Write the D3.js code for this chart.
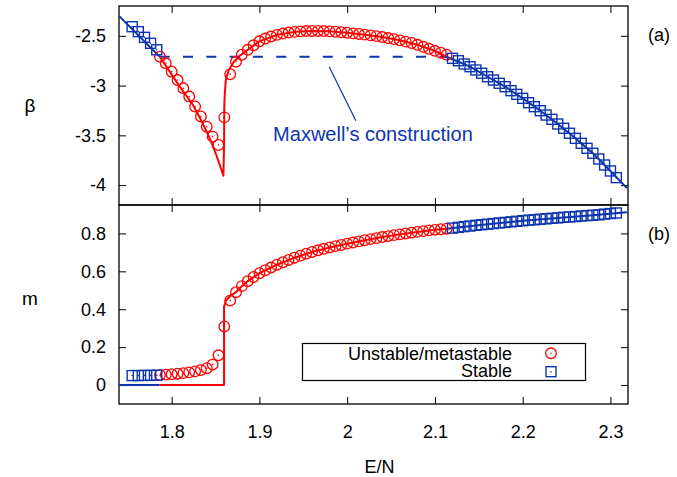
<!DOCTYPE html>
<html>
<head>
<meta charset="utf-8">
<script src="https://cdn.jsdelivr.net/npm/d3@7"></script>
<style>
  body { margin: 0; background: #fff; }
  text { font-family: "Liberation Sans", Arial, Helvetica, sans-serif; }
</style>
</head>
<body>
<div id="chart"></div>
<script>
var red = "#ff0000",
    blue = "#0d35b0";

// stable points, low energy side
var E_sqL = [1.755, 1.762, 1.769, 1.776, 1.783];
var beta_sqL = [-2.408, -2.458, -2.515, -2.575, -2.640];
var m_sqL = [0.050, 0.050, 0.051, 0.051, 0.052];

// unstable / metastable points
var E_circ = [1.7867, 1.7933, 1.8000, 1.8067, 1.8133, 1.8200, 1.8267, 1.8333, 1.8400, 1.8467,
    1.8533, 1.8600, 1.8667, 1.8733, 1.8800, 1.8867, 1.8933, 1.9000, 1.9067, 1.9133,
    1.9200, 1.9267, 1.9333, 1.9400, 1.9467, 1.9533, 1.9600, 1.9667, 1.9733, 1.9800,
    1.9867, 1.9933, 2.0000, 2.0067, 2.0133, 2.0200, 2.0267, 2.0333, 2.0400, 2.0467,
    2.0533, 2.0600, 2.0667, 2.0733, 2.0800, 2.0867, 2.0933, 2.1000, 2.1067, 2.1133];
var beta_circ = [-2.710, -2.776, -2.860, -2.944, -3.027, -3.110, -3.210, -3.310, -3.413, -3.513,
    -3.597, -3.319, -2.886, -2.760, -2.690, -2.640, -2.595, -2.555, -2.527, -2.507,
    -2.490, -2.477, -2.467, -2.460, -2.455, -2.452, -2.451, -2.451, -2.452, -2.455,
    -2.459, -2.464, -2.469, -2.475, -2.481, -2.488, -2.495, -2.503, -2.512, -2.522,
    -2.533, -2.545, -2.558, -2.572, -2.590, -2.610, -2.630, -2.650, -2.670, -2.690];
var m_circ = [0.053, 0.055, 0.057, 0.060, 0.063, 0.067, 0.072, 0.079, 0.089, 0.108,
    0.157, 0.309, 0.446, 0.490, 0.522, 0.548, 0.570, 0.590, 0.606, 0.620,
    0.635, 0.648, 0.660, 0.672, 0.683, 0.693, 0.702, 0.711, 0.719, 0.726,
    0.733, 0.739, 0.746, 0.752, 0.758, 0.764, 0.770, 0.775, 0.781, 0.786,
    0.791, 0.795, 0.800, 0.804, 0.808, 0.812, 0.816, 0.819, 0.822, 0.825];

// stable points, high energy side
var E_sqR = [2.1200, 2.1267, 2.1333, 2.1400, 2.1467, 2.1533, 2.1600, 2.1667, 2.1733, 2.1800,
    2.1867, 2.1933, 2.2000, 2.2067, 2.2133, 2.2200, 2.2267, 2.2333, 2.2400, 2.2467,
    2.2533, 2.2600, 2.2667, 2.2733, 2.2800, 2.2867, 2.2933, 2.3000, 2.3067];
var beta_sqR = [-2.726, -2.750, -2.783, -2.810, -2.843, -2.876, -2.911, -2.944, -2.977, -3.011,
    -3.051, -3.088, -3.128, -3.172, -3.212, -3.252, -3.296, -3.339, -3.386, -3.429,
    -3.479, -3.530, -3.580, -3.630, -3.680, -3.738, -3.798, -3.858, -3.925];
var m_sqR = [0.828, 0.832, 0.836, 0.839, 0.843, 0.846, 0.849, 0.852, 0.855, 0.858,
    0.861, 0.864, 0.867, 0.870, 0.872, 0.875, 0.877, 0.880, 0.882, 0.885,
    0.887, 0.889, 0.892, 0.894, 0.896, 0.898, 0.902, 0.905, 0.908];

// theory curves
var E_lineBL = [1.74, 1.7864];
var beta_lineBL = [-2.30, -2.71];
var E_lineR = [1.7864, 1.7960, 1.8055, 1.8150, 1.8244, 1.8340, 1.8434, 1.8510, 1.8590,
    1.8597, 1.8600, 1.8605, 1.8617, 1.8651, 1.8708, 1.8776, 1.8867, 1.9000, 1.9200,
    1.9400, 1.9600, 1.9800, 2.0000, 2.0200, 2.0400, 2.0600, 2.0800, 2.1000, 2.1130];
var beta_lineR = [-2.710, -2.835, -2.961, -3.080, -3.195, -3.355, -3.530, -3.700, -3.906,
    -3.600, -3.200, -3.090, -2.944, -2.843, -2.763, -2.700, -2.640, -2.555, -2.490,
    -2.460, -2.451, -2.455, -2.469, -2.488, -2.512, -2.545, -2.590, -2.650, -2.710];
var E_lineBR = [2.113, 2.140, 2.160, 2.180, 2.200, 2.220, 2.240, 2.260, 2.280, 2.300, 2.3187];
var beta_lineBR = [-2.710, -2.810, -2.911, -3.011, -3.128, -3.252, -3.386, -3.530, -3.680, -3.858, -4.030];

var E_mlineBL = [1.74, 1.7864];
var m_lineBL = [0, 0];
var E_mlineR = [1.7864, 1.8597, 1.8597, 1.8620, 1.8667, 1.8733, 1.8800, 1.8867, 1.9000, 1.9200,
    1.9400, 1.9600, 1.9800, 2.0000, 2.0200, 2.0400, 2.0600, 2.0800, 2.1000, 2.1130];
var m_lineR = [0, 0, 0.414, 0.445, 0.470, 0.490, 0.522, 0.548, 0.590, 0.635,
    0.672, 0.702, 0.726, 0.746, 0.764, 0.781, 0.795, 0.808, 0.819, 0.825];
var E_mlineBR = [2.113, 2.160, 2.200, 2.240, 2.280, 2.3187];
var m_lineBR = [0.825, 0.849, 0.867, 0.882, 0.896, 0.912];

var maxwellBeta = -2.71,
    maxwellE = [1.7864, 2.113];

var xTicks = [1.8, 1.9, 2.0, 2.1, 2.2, 2.3];
var betaTicks = [-2.5, -3, -3.5, -4];
var mTicks = [0, 0.2, 0.4, 0.6, 0.8];

var width = 677, height = 477;
var left = 119, right = 628, top1 = 6, mid = 205, bot = 404;

var svg = d3.select("#chart").append("svg")
    .attr("width", width)
    .attr("height", height);

var x = d3.scaleLinear().domain([1.74, 2.32]).range([left, right]);
var yB = d3.scaleLinear().domain([-4.2, -2.2]).range([mid, top1]);
var yM = d3.scaleLinear().domain([-0.1, 0.95]).range([bot, mid]);

var fmt = function(d) { return d3.format("")(d).replace("−", "-"); };

function drawAxes(y, yTicks, y0, y1, showX) {
    svg.append("g")
        .attr("transform", "translate(" + left + ",0)")
        .call(d3.axisLeft(y).tickValues(yTicks).tickSizeInner(-7).tickSizeOuter(0).tickPadding(13).tickFormat(fmt));
    svg.append("g")
        .attr("transform", "translate(" + right + ",0)")
        .call(d3.axisRight(y).tickValues(yTicks).tickSizeInner(-7).tickSizeOuter(0).tickFormat(""));
    svg.append("g")
        .attr("transform", "translate(0," + y0 + ")")
        .call(d3.axisBottom(x).tickValues(xTicks).tickSizeInner(-7).tickSizeOuter(0).tickPadding(21)
            .tickFormat(showX ? d3.format("") : ""));
    svg.append("g")
        .attr("transform", "translate(0," + y1 + ")")
        .call(d3.axisTop(x).tickValues(xTicks).tickSizeInner(-7).tickSizeOuter(0).tickFormat(""));
}

drawAxes(yB, betaTicks, mid, top1, false);
drawAxes(yM, mTicks, bot, mid, true);

svg.selectAll(".domain").remove();
svg.selectAll(".tick line").attr("stroke", "#000").attr("stroke-width", 1);
svg.selectAll(".tick text").attr("font-size", 18).attr("fill", "#000")
    .style("font-family", "'Liberation Sans', Arial, sans-serif");

// frames
[[top1, mid], [mid, bot]].forEach(function(p) {
    svg.append("rect")
        .attr("x", left).attr("y", p[0])
        .attr("width", right - left).attr("height", p[1] - p[0])
        .attr("fill", "none").attr("stroke", "#000").attr("stroke-width", 1.3);
});

svg.append("clipPath").attr("id", "clipTop").append("rect")
    .attr("x", left).attr("y", top1).attr("width", right - left).attr("height", mid - top1);
svg.append("clipPath").attr("id", "clipBot").append("rect")
    .attr("x", left).attr("y", mid).attr("width", right - left).attr("height", bot - mid);

var gTop = svg.append("g").attr("clip-path", "url(#clipTop)");
var gBot = svg.append("g").attr("clip-path", "url(#clipBot)");

function drawLine(g, y, xs, ys, color) {
    var line = d3.line().x(function(d) { return x(d[0]); }).y(function(d) { return y(d[1]); });
    g.append("path")
        .datum(d3.zip(xs, ys))
        .attr("d", line)
        .attr("fill", "none")
        .attr("stroke", color)
        .attr("stroke-width", 2)
        .attr("stroke-linejoin", "round");
}

function drawCircles(g, y, xs, ys) {
    var pts = d3.zip(xs, ys);
    g.selectAll(null).data(pts).enter().append("circle")
        .attr("cx", function(d) { return x(d[0]); })
        .attr("cy", function(d) { return y(d[1]); })
        .attr("r", 5.3)
        .attr("fill", "none").attr("stroke", red).attr("stroke-width", 1.3);
    g.selectAll(null).data(pts).enter().append("circle")
        .attr("cx", function(d) { return x(d[0]); })
        .attr("cy", function(d) { return y(d[1]); })
        .attr("r", 0.8).attr("fill", red);
}

function drawSquares(g, y, xs, ys) {
    var pts = d3.zip(xs, ys);
    g.selectAll(null).data(pts).enter().append("rect")
        .attr("x", function(d) { return x(d[0]) - 5; })
        .attr("y", function(d) { return y(d[1]) - 5; })
        .attr("width", 10).attr("height", 10)
        .attr("fill", "none").attr("stroke", blue).attr("stroke-width", 1.4);
    g.selectAll(null).data(pts).enter().append("circle")
        .attr("cx", function(d) { return x(d[0]); })
        .attr("cy", function(d) { return y(d[1]); })
        .attr("r", 0.8).attr("fill", blue);
}

// panel (a)
drawLine(gTop, yB, E_lineBL, beta_lineBL, blue);
drawLine(gTop, yB, E_lineR, beta_lineR, red);
drawLine(gTop, yB, E_lineBR, beta_lineBR, blue);
gTop.append("line")
    .attr("x1", x(maxwellE[0])).attr("x2", x(maxwellE[1]))
    .attr("y1", yB(maxwellBeta)).attr("y2", yB(maxwellBeta))
    .attr("stroke", blue).attr("stroke-width", 2.2)
    .attr("stroke-dasharray", "10,13.3");
drawCircles(gTop, yB, E_circ, beta_circ);
drawSquares(gTop, yB, E_sqL, beta_sqL);
drawSquares(gTop, yB, E_sqR, beta_sqR);

// annotation
svg.append("line")
    .attr("x1", x(1.9795)).attr("y1", yB(-2.81))
    .attr("x2", x(2.0099)).attr("y2", yB(-3.353))
    .attr("stroke", blue).attr("stroke-width", 1.2);
svg.append("text")
    .attr("x", x(1.9156)).attr("y", yB(-3.56))
    .attr("font-size", 20).attr("fill", blue)
    .text("Maxwell\u2019s construction");

// panel (b)
drawLine(gBot, yM, E_mlineBL, m_lineBL, blue);
drawLine(gBot, yM, E_mlineR, m_lineR, red);
drawLine(gBot, yM, E_mlineBR, m_lineBR, blue);
drawCircles(gBot, yM, E_circ, m_circ);
drawSquares(gBot, yM, E_sqL, m_sqL);
drawSquares(gBot, yM, E_sqR, m_sqR);

// legend
var leg = svg.append("g");
leg.append("rect")
    .attr("x", 302.5).attr("y", 343.5).attr("width", 283).attr("height", 37)
    .attr("fill", "#fff").attr("stroke", "#000").attr("stroke-width", 1.2);
leg.append("text").attr("x", 512).attr("y", 359.5).attr("text-anchor", "end")
    .attr("font-size", 18).text("Unstable/metastable");
leg.append("text").attr("x", 512).attr("y", 377).attr("text-anchor", "end")
    .attr("font-size", 18).text("Stable");
leg.append("circle").attr("cx", 551).attr("cy", 353.3).attr("r", 5.3)
    .attr("fill", "none").attr("stroke", red).attr("stroke-width", 1.3);
leg.append("circle").attr("cx", 551).attr("cy", 353.3).attr("r", 0.8).attr("fill", red);
leg.append("rect").attr("x", 546).attr("y", 366.7).attr("width", 10).attr("height", 10)
    .attr("fill", "none").attr("stroke", blue).attr("stroke-width", 1.4);
leg.append("circle").attr("cx", 551).attr("cy", 371.7).attr("r", 0.8).attr("fill", blue);

// axis titles and panel tags
svg.append("text").attr("x", 30).attr("y", 112).attr("text-anchor", "middle")
    .attr("font-size", 19).text("\u03b2");
svg.append("text").attr("x", 30).attr("y", 305).attr("text-anchor", "middle")
    .attr("font-size", 19).text("m");
svg.append("text").attr("x", (left + right) / 2 + 6).attr("y", 473).attr("text-anchor", "middle")
    .attr("font-size", 18).text("E/N");
svg.append("text").attr("x", 648).attr("y", 41).attr("font-size", 18).text("(a)");
svg.append("text").attr("x", 648).attr("y", 240).attr("font-size", 18).text("(b)");
</script>
</body>
</html>
